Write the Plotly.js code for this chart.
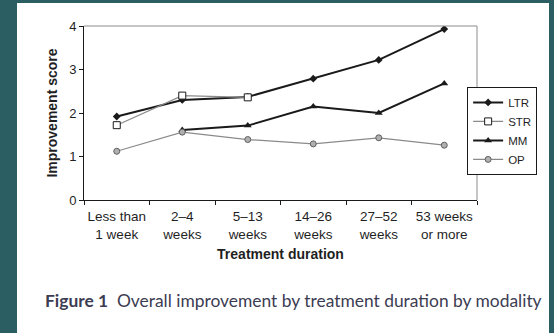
<!DOCTYPE html>
<html>
<head>
<meta charset="utf-8">
<script src="https://cdn.plot.ly/plotly-3.0.1.min.js"></script>
<style>
  html, body { margin: 0; padding: 0; width: 554px; height: 333px; background: #2a5e62; overflow: hidden; }
  #chart { position: absolute; left: 17px; top: 3px; width: 532px; height: 330px; background: #ffffff; }
</style>
</head>
<body>
<div id="chart"></div>
<script>
const categories = ["Less than<br>1 week", "2–4<br>weeks", "5–13<br>weeks", "14–26<br>weeks", "27–52<br>weeks", "53 weeks<br>or more"];
const ltr = [1.92, 2.30, 2.37, 2.79, 3.22, 3.93];
const str = [1.72, 2.40, 2.36, null, null, null];
const mm  = [null, 1.61, 1.71, 2.15, 2.00, 2.68];
const op  = [1.12, 1.56, 1.39, 1.29, 1.43, 1.26];
const yTicks = [0, 1, 2, 3, 4];

const font = "Liberation Sans, Arial, sans-serif";

const traces = [
  { name: "LTR", x: categories, y: ltr, type: "scatter", mode: "lines+markers",
    line: { color: "#1a1a1a", width: 2 },
    marker: { symbol: "diamond", size: 6, color: "#1a1a1a" } },
  { name: "STR", x: categories, y: str, type: "scatter", mode: "lines+markers",
    line: { color: "#8a8a8a", width: 1.2 },
    marker: { symbol: "square", size: 7, color: "#ffffff", line: { color: "#1a1a1a", width: 1 } } },
  { name: "MM", x: categories, y: mm, type: "scatter", mode: "lines+markers",
    line: { color: "#1a1a1a", width: 2 },
    marker: { symbol: "triangle-up", size: 7, color: "#1a1a1a" } },
  { name: "OP", x: categories, y: op, type: "scatter", mode: "lines+markers",
    line: { color: "#8a8a8a", width: 1.2 },
    marker: { symbol: "circle", size: 6, color: "#b0b0b0", line: { color: "#606060", width: 1 } } }
];

const layout = {
  width: 532, height: 330,
  margin: { l: 67, r: 65, t: 23, b: 132.5 },
  paper_bgcolor: "#ffffff", plot_bgcolor: "#ffffff",
  font: { family: font, color: "#1f1f1f" },
  showlegend: true,
  legend: {
    x: 1.153, xanchor: "right", y: 0.65, yanchor: "top",
    bordercolor: "#1a1a1a", borderwidth: 1, bgcolor: "#ffffff",
    font: { family: font, size: 11.5, color: "#1f1f1f" },
    itemwidth: 30, tracegroupgap: 0
  },
  xaxis: {
    type: "category", range: [-0.5, 5.5],
    showline: true, linecolor: "#1a1a1a", linewidth: 1,
    ticks: "outside", ticklen: 4, tickcolor: "#1a1a1a", tickson: "boundaries",
    tickangle: 0, ticklabelstandoff: 4,
    showgrid: false, zeroline: false,
    tickfont: { family: font, size: 13.5, color: "#1f1f1f" },
    title: { text: "<b>Treatment duration</b>", font: { family: font, size: 14, color: "#1f1f1f" }, standoff: 8 }
  },
  yaxis: {
    range: [0, 4], tickvals: yTicks, ticktext: yTicks.map(String),
    showline: true, linecolor: "#1a1a1a", linewidth: 1,
    ticks: "outside", ticklen: 4, tickcolor: "#1a1a1a",
    showgrid: false, zeroline: false,
    tickfont: { family: font, size: 13, color: "#1f1f1f" },
    title: { text: "<b>Improvement score</b>", font: { family: font, size: 14, color: "#1f1f1f" }, standoff: 8 }
  },
  shapes: [
    { type: "path", xref: "paper", yref: "paper", path: "M0,1 L1,1 L1,0",
      line: { color: "#8c8c8c", width: 1 } }
  ],
  annotations: [
    { xref: "paper", yref: "paper", x: -0.1034, y: -0.575, xanchor: "left", yanchor: "middle",
      showarrow: false, align: "left",
      text: "<b>Figure 1</b>  Overall improvement by treatment duration by modality",
      font: { family: "Lato, Open Sans, sans-serif", size: 17.4, color: "#3c3c52" } }
  ]
};

Plotly.newPlot("chart", traces, layout, { displayModeBar: false, staticPlot: true });
</script>
</body>
</html>
